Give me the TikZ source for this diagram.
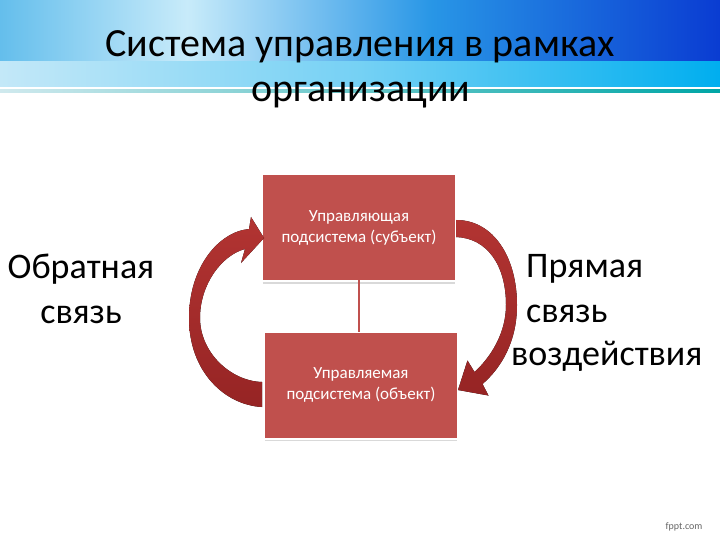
\documentclass[tikz,border=0pt]{standalone}
\usepackage{fontspec}
\setmainfont{Carlito}
\usetikzlibrary{shadings}
\definecolor{boxred}{RGB}{192,80,77}
\definecolor{arrred}{RGB}{150,36,36}
\definecolor{arrlight}{RGB}{178,52,50}
\definecolor{ta}{RGB}{100,190,236}
\definecolor{tb}{RGB}{200,235,250}
\definecolor{tc}{RGB}{40,150,230}
\definecolor{td}{RGB}{10,60,210}
\definecolor{sa}{RGB}{195,232,248}
\definecolor{sb}{RGB}{0,174,239}
\pgfdeclarehorizontalshading{topband}{100bp}{color(0bp)=(ta); color(25bp)=(ta); color(38bp)=(tb); color(55bp)=(tc); color(75bp)=(td); color(100bp)=(td)}
\pgfdeclarehorizontalshading{lowband}{100bp}{color(0bp)=(sa); color(25bp)=(sa); color(50bp)=(sa!60!sb); color(75bp)=(sb); color(100bp)=(sb)}
\tikzset{
  box/.style={fill=boxred, text=white, minimum width=192pt, minimum height=105pt, inner sep=0pt, align=center, font=\fontsize{17}{21}\selectfont},
  biglabel/.style={font=\fontsize{36}{45}\selectfont, align=center, inner sep=0pt},
  titletext/.style={font=\fontsize{40}{48}\selectfont, inner sep=0pt},
  arrowshape/.style={top color=arrlight, bottom color=arrred}
}
\begin{document}
\begin{tikzpicture}[x=1pt,y=-1pt]
\useasboundingbox (0,0) rectangle (720,540);
\fill[white] (0,0) rectangle (720,540);
% header band
\shade[shading=topband] (0,0) rectangle (720,62);
\shade[shading=lowband] (0,62) rectangle (720,87);
\fill[left color=sa!70!teal!40, right color=teal!70!cyan] (0,90) rectangle (720,93);
% title
\node[titletext] (t1) at (360,47) {Система управления в рамках};
\node[titletext] (t2) at (361,95) {организации};
% boxes
\node[box] (top) at (359,227.5) {Управляющая\\подсистема (субъект)};
\node[box] (bot) at (361,385) {Управляемая\\подсистема (объект)};
\draw[black!15, line width=1.5pt] ([yshift=-3pt]top.south west) -- ([yshift=-3pt]top.south east);
\draw[black!15, line width=1.5pt] ([yshift=-3pt]bot.south west) -- ([yshift=-3pt]bot.south east);
\draw[boxred, line width=2pt] (top.south) -- (top.south |- bot.north);
% left arrow (feedback)
\fill[arrowshape]
  (262,407) .. controls (225,405) and (189,372) .. (189,318)
  .. controls (189,268) and (218,232) .. (249,229)
  -- (251,217) -- (264,238) -- (241,263) -- (245,249)
  .. controls (222,255) and (200,284) .. (200,318)
  .. controls (200,352) and (230,381) .. (262,382) -- cycle;
% right arrow (direct)
\fill[arrowshape]
  (456,220) .. controls (494,220) and (517,258) .. (517,305)
  .. controls (517,342) and (501,368) .. (482.5,384)
  -- (488.5,395.5) -- (458,390) -- (467.5,360.5) -- (474.5,372)
  .. controls (491,357) and (506,333) .. (506,305)
  .. controls (506,265) and (487,238) .. (456,237) -- cycle;
% labels
\node[biglabel, anchor=north] (fb) at (81,254) {Обратная\\связь};
\node[biglabel, anchor=north west, align=left] (dl) at (526,254) {Прямая\\связь};
\node[biglabel, anchor=north west] (dl2) at (511,341) {воздействия};
% footer
\node[font=\fontsize{10}{12}\selectfont, text=black!60, anchor=east] (fp) at (706,527) {fppt.com};
\end{tikzpicture}
\end{document}
